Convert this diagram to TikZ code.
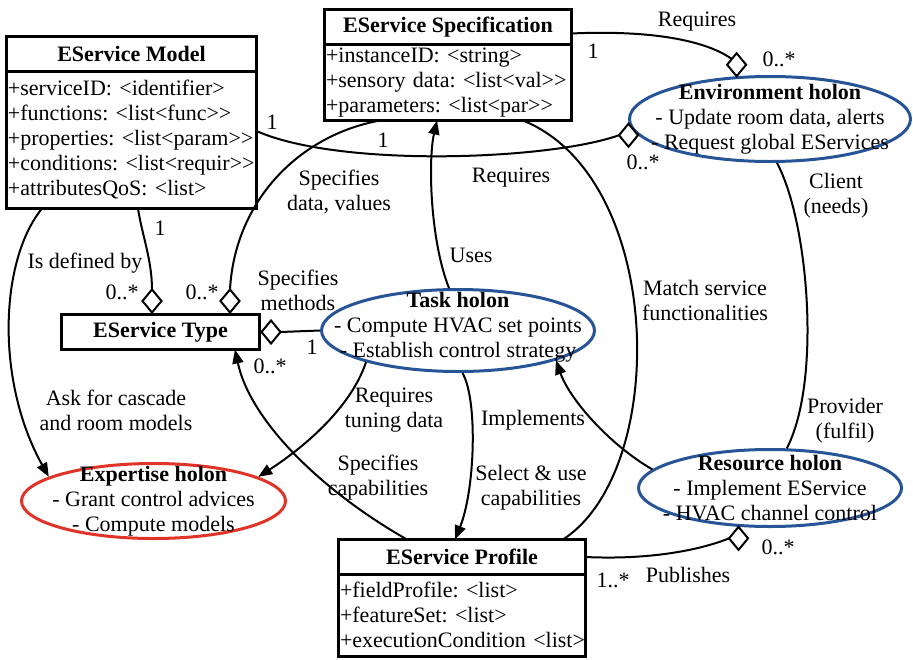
\documentclass[tikz,border=0pt]{standalone}
\usepackage{fontspec}
\setmainfont{Liberation Serif}[Ligatures=TeXOff]
\usetikzlibrary{positioning,shapes.geometric,arrows.meta}

\definecolor{holonblue}{RGB}{38,84,150}
\definecolor{holonred}{RGB}{224,52,40}
\newcommand{\umlfont}{\fontsize{22}{25}\selectfont}

\tikzset{
  classhead/.style={draw, line width=3pt, outer sep=0pt, inner sep=0pt, font=\umlfont\bfseries, minimum height=35pt},
  classbody/.style={draw, line width=3pt, outer sep=0pt, inner xsep=1.5pt, inner ysep=0pt, align=left},
  holon/.style={ellipse, draw=holonblue, line width=3pt},
  holontext/.style={align=center, inner sep=0pt},
  aggr/.style={diamond, draw, fill=white, line width=2pt, minimum width=19pt, minimum height=23pt, inner sep=0pt, outer sep=0pt},
  link/.style={line width=2pt},
  uses/.style={link, -{Triangle[length=14pt,width=11pt]}},
  lbl/.style={align=center, inner sep=0pt}
}

\begin{document}
\begin{tikzpicture}[x=1pt, y=-1pt, font=\umlfont]
\useasboundingbox (0,0) rectangle (913,659);

% classes
\node[classhead, minimum width=250pt] (modelhead) at (131.5,53.5) {EService Model};
\node[classbody, below=0pt of modelhead, text width=247pt, minimum height=137.5pt] (modelbody)
  {+serviceID:~<identifier>\\+functions:~<list<func>>\\+properties:~<list<param>>\\+conditions:~<list<requir>>\\+attributesQoS:~<list>};

\node[classhead, minimum width=247pt] (spechead) at (448,27) {EService Specification};
\node[classbody, below=0pt of spechead, text width=244pt, minimum height=76pt] (specbody)
  {+instanceID:~<string>\\+sensory~data:~<list<val>>\\+parameters:~<list<par>>};

\node[classhead, minimum width=198pt] (type) at (160.5,332) {EService Type};

\node[classhead, minimum width=247pt] (profhead) at (462,557) {EService Profile};
\node[classbody, below=0pt of profhead, text width=244pt, minimum height=81.5pt] (profbody)
  {+fieldProfile:~<list>\\+featureSet:~<list>\\+executionCondition~<list>};

% holons
\node[holon, minimum width=281pt, minimum height=85pt] (env) at (770,119) {};
\node[holontext] (envtext) at (env) {\textbf{Environment holon}\\- Update room data, alerts\\- Request global EServices};
\node[holon, minimum width=273pt, minimum height=82pt] (task) at (458,330.5) {};
\node[holontext] (tasktext) at ([yshift=3pt]task) {\textbf{Task holon}\\- Compute HVAC set points\\- Establish control strategy};
\node[holon, draw=holonred, minimum width=264pt, minimum height=75pt] (expert) at (153.5,501) {};
\node[holontext] (experttext) at (expert) {\textbf{Expertise holon}\\- Grant control advices\\- Compute models};
\node[holon, minimum width=263pt, minimum height=77pt] (res) at (770,488) {};
\node[holontext] (restext) at (res) {\textbf{Resource holon}\\- Implement EService\\- HVAC channel control};

% aggregation ends
\node[aggr, anchor=south] (aggenvtop) at (env.128) {};
\node[aggr, anchor=east] (aggenvleft) at (env.187) {};
\node[aggr, anchor=south] (aggtypeL) at ([xshift=-8.5pt,yshift=2pt]type.north) {};
\node[aggr, anchor=south] (aggtypeR) at ([xshift=69.5pt,yshift=2pt]type.north) {};
\node[aggr, anchor=west] (aggtypeside) at ([xshift=2pt]type.east) {};
\node[aggr, anchor=north] (aggres) at (res.231) {};

% associations
\draw[link] (spechead.-3) .. controls (650,30) and (705,40) .. (aggenvtop.north west);
\draw[link] (modelbody.4) .. controls (340,168) and (550,160) .. (aggenvleft.west);
\draw[link] ([xshift=-68pt]specbody.south) .. controls (300,135) and (235,200) .. (aggtypeR.north);
\draw[link] ([xshift=6.5pt]modelbody.south) .. controls (142,235) and (152,260) .. (aggtypeL.north);
\draw[uses] ([xshift=-89.5pt]modelbody.south) .. controls (0,260) and (-5,380) .. (expert.167);
\draw[link] (aggtypeside.east) -- (task.west);
\draw[uses] (task.102) .. controls (430,240) and (428,160) .. ([xshift=-11pt]specbody.south);
\draw[uses] (task.199) .. controls (350,410) and (300,450) .. (expert.13);
\draw[uses] (task.-84) .. controls (478,400) and (475,490) .. ([xshift=-7pt]profhead.north);
\draw[uses] ([xshift=-55pt]profhead.north) .. controls (320,490) and (250,420) .. ([xshift=74.5pt]type.south);
\draw[uses] (res.171) .. controls (610,445) and (570,400) .. (task.-17);
\draw[link] ([xshift=101pt]profhead.north) .. controls (670,470) and (665,178) .. ([xshift=75pt]specbody.south);
\draw[link] (env.-81) .. controls (808,220) and (822,380) .. (res.67);
\draw[link] (profhead.east) .. controls (650,560) and (700,550) .. (aggres.west);

% labels and multiplicities
\node[lbl] (lreqenv) at (697,22) {Requires};
\node[lbl] (mspec) at (593,51) {1};
\node[lbl] (menv1) at (779,59) {0..*};
\node[lbl] (mmodel) at (272,122) {1};
\node[lbl] (mspec2) at (383,140) {1};
\node[lbl] (menv2) at (643,162) {0..*};
\node[lbl] (lspecdata) at (339,192) {Specifies\\data, values};
\node[lbl] (lreqprof) at (511,178) {Requires};
\node[lbl] (lclient) at (836,196) {Client\\(needs)};
\node[lbl] (mmodel2) at (160,228) {1};
\node[lbl] (ldefined) at (85,263) {Is defined by};
\node[lbl] (mtype1) at (122,292) {0..*};
\node[lbl] (mtype2) at (202,292) {0..*};
\node[lbl] (lmethods) at (298,290) {Specifies\\methods};
\node[lbl] (luses) at (471,255) {Uses};
\node[lbl] (lmatch) at (705,300) {Match service\\functionalities};
\node[lbl] (mtask) at (312,347) {1};
\node[lbl] (mtype3) at (270,366) {0..*};
\node[lbl] (lask) at (116,410) {Ask for cascade\\and room models};
\node[lbl] (ltuning) at (394,410) {Requires\\tuning data};
\node[lbl] (limpl) at (533,420) {Implements};
\node[lbl] (lprovider) at (845,421) {Provider\\(fulfil)};
\node[lbl] (lcapab) at (378,478) {Specifies\\capabilities};
\node[lbl] (lselect) at (531,488) {Select \& use\\capabilities};
\node[lbl] (mprof) at (613,580) {1..*};
\node[lbl] (mres) at (778,547) {0..*};
\node[lbl] (lpub) at (688,575) {Publishes};
\end{tikzpicture}
\end{document}
